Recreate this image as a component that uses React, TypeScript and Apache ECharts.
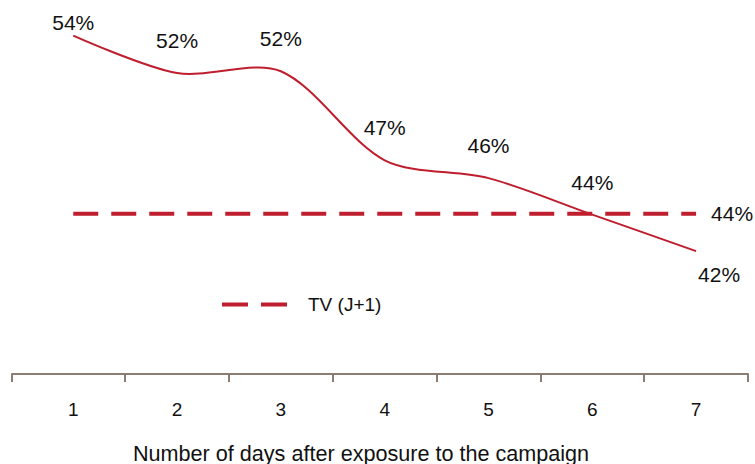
import React, { useEffect, useRef } from "react";
import * as echarts from "echarts";

const days = [1, 2, 3, 4, 5, 6, 7];
const campaignValues = [54, 51.9, 52.0, 47.0, 46.0, 43.95, 41.9];
const campaignLabels = ["54%", "52%", "52%", "47%", "46%", "44%", "42%"];
const tvValue = 44;
const tvLabel = "44%";
const tvName = "TV (J+1)";
const tickPositions = [0.41, 1.5, 2.5, 3.5, 4.5, 5.5, 6.5, 7.5];
const xTitle = "Number of days after exposure to the campaign";

const RED = "#BE1E2D";
const FONT = "'Liberation Sans', Arial, Helvetica, sans-serif";

export default function App() {
  const ref = useRef<HTMLDivElement>(null);
  useEffect(() => {
    if (!ref.current) return;
    const chart = echarts.init(ref.current, null, { renderer: "svg" });
    const last = days.length - 1;
    const labelData = days.map((d, i) => {
      let label: any = { show: true, formatter: campaignLabels[i], position: "top", distance: 22 };
      if (i === 0) label = { ...label, distance: 3 };
      if (i === last) label = { ...label, position: "bottom", distance: 13, offset: [23, 0] };
      return { value: [d, campaignValues[i]], label };
    });
    const tvData = days.map((d, i) => ({
      value: [d, tvValue],
      label:
        i === last
          ? { show: true, formatter: tvLabel, position: "right", distance: 15 }
          : { show: false },
    }));
    chart.setOption({
      animation: false,
      textStyle: { fontFamily: FONT },
      title: {
        text: xTitle,
        left: 133,
        top: 442,
        padding: 0,
        textStyle: { fontSize: 21.6, fontWeight: "normal", color: "#111", fontFamily: FONT },
      },
      grid: { left: 12, right: 7, top: 0, bottom: 90, containLabel: false },
      legend: {
        data: [{ name: tvName, icon: "path://M0,0h26v4h-26z M39,0h26v4h-26z" }],
        left: 222,
        top: 295,
        padding: 0,
        itemWidth: 65,
        itemHeight: 4,
        itemGap: 10,
        itemStyle: { color: RED },
        textStyle: { fontSize: 19, color: "#111", fontFamily: FONT, padding: [0, 0, 0, 16] },
      },
      xAxis: {
        type: "value",
        min: 0.41,
        max: 7.5,
        splitLine: { show: false },
        axisLine: { show: true, lineStyle: { color: "#8B7D72", width: 2 } },
        axisTick: {
          show: true,
          customValues: tickPositions,
          length: 8,
          lineStyle: { color: "#8B7D72", width: 2 },
        },
        axisLabel: {
          customValues: days,
          fontSize: 19,
          color: "#111",
          margin: 26,
          fontFamily: FONT,
        },
      },
      yAxis: {
        type: "value",
        min: 35,
        max: 56,
        show: false,
      },
      series: [
        {
          name: "Campaign",
          type: "custom",
          data: days.map((d, i) => [d, campaignValues[i]]),
          clip: false,
          silent: true,
          renderItem: (params: any, api: any) => {
            if (params.dataIndex !== 0) return null;
            const points = days.map((d, i) => api.coord([d, campaignValues[i]]));
            return {
              type: "polyline",
              shape: { points, smooth: 0.3 },
              style: { stroke: RED, lineWidth: 2, fill: null },
            };
          },
        },
        {
          name: "CampaignLabels",
          type: "line",
          symbol: "circle",
          symbolSize: 0,
          showSymbol: true,
          data: labelData,
          lineStyle: { opacity: 0, width: 0 },
          itemStyle: { color: RED },
          label: { fontSize: 21, color: "#111", fontFamily: FONT },
        },
        {
          name: tvName,
          type: "line",
          symbol: "circle",
          symbolSize: 0,
          showSymbol: true,
          data: tvData,
          lineStyle: { color: RED, width: 4, type: [25, 13] },
          itemStyle: { color: RED },
          label: { fontSize: 21, color: "#111", fontFamily: FONT },
        },
      ],
    });
    return () => chart.dispose();
  }, []);
  return <div ref={ref} style={{ width: 755, height: 464, position: "absolute", left: 0, top: 0 }} />;
}
